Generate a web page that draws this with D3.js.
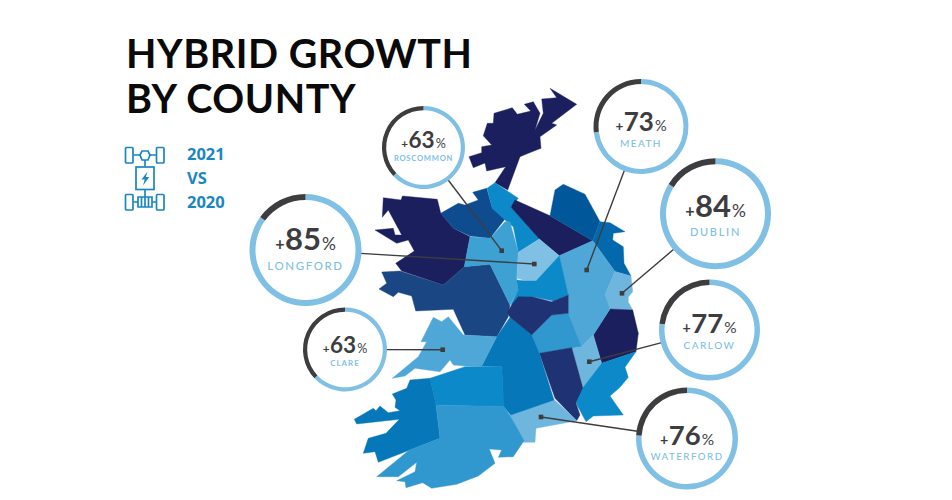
<!DOCTYPE html>
<html><head><meta charset="utf-8">
<script src="https://cdn.jsdelivr.net/npm/d3@7/dist/d3.min.js"></script>
<style>html,body{margin:0;background:#fff}svg{display:block}text{font-family:Lato,sans-serif}</style>
</head><body><svg id="c" width="952" height="500"></svg>
<script>
// ---- data ----
const titleLines = ["HYBRID GROWTH", "BY COUNTY"];
const compareLines = ["2021", "VS", "2020"];
const counties = ["Roscommon", "Meath", "Dublin", "Longford", "Clare", "Carlow", "Waterford"];
const growth = [63, 73, 84, 85, 63, 77, 76];
const anchorPoints = [[501.7,250.7],[586.7,270],[622,293.3],[534.3,264],[442.7,349.7],[589.3,361.7],[541,417]];
// map regions: [shade, outline in map units]
const regionShade = {navy:"#1b1f5e",indigo:"#1f3274",royal:"#1a4683",deep:"#0f4c8f",ocean:"#00589b",sea:"#0368ac",teal:"#0677b8",bright:"#0c89c8",mid:"#3198cf",rosc:"#3ea1d3",soft:"#4fa7d7",pale:"#6fb6df",ice:"#80c0e5"};
const regions = [
 ["navy",[[541.7,99],[556.7,97.7],[550,88.3],[576.7,104.3],[551.7,123.3],[556.7,125],[540,136.7],[541,148.3],[528.3,153.3],[520,156.7],[507.7,190],[495,182.7],[505.7,166.7],[486.7,171],[485,163],[473.3,167.7],[469,156.7],[481.7,152.7],[481.7,146.7],[491.7,145],[483.3,135.7],[487.3,123.3],[493.3,123.3],[494,113.3],[512.3,107.7],[517.3,114.3],[530.7,111],[524.3,104.3],[533.3,101.7],[540,113.3],[535,130],[543.3,113.3]]],
 ["navy",[[383.3,197.7],[401,200],[402.5,196],[437.3,199.3],[440.7,213],[453.3,228.3],[470,236.7],[464.3,266.7],[443.3,285],[401.7,271],[395.7,263.3],[414.3,251],[408.3,240],[396.7,243.3],[375,230],[393.3,228.3],[395,235],[401.7,235],[388.3,210],[382.3,217.3]]],
 ["royal",[[381.7,272],[400,271],[443.3,285],[464.3,266.7],[490,264.3],[510,305],[508.3,316.7],[496.7,336.7],[465,335],[453.3,309.3],[415.7,311],[411.7,296],[398.3,292.3],[393.3,296.7],[379,289],[386.7,283.3]]],
 ["deep",[[440.7,213.3],[458.3,203.3],[465,205],[478.3,200],[472.7,192.3],[486.7,188.3],[492.3,208.3],[505,219],[490,238.3],[470,236],[453.3,228.3]]],
 ["bright",[[487,188.3],[495,182.7],[518.3,198.3],[511,207.3],[539.3,239],[518.3,252.3],[513.3,226.7],[505,220],[492.3,208.3]]],
 ["navy",[[511,207.3],[515,200],[550,215.7],[592.7,240.7],[559.3,255.7],[539.3,239]]],
 ["ocean",[[563.3,184.3],[555,190],[550,215.7],[592.7,240.7],[600,221.7],[585,194.3]]],
 ["sea",[[600,221.7],[610,222.7],[625,231.7],[613.3,233.3],[612.7,240],[623.3,246.7],[624,263.3],[631,276],[615,271.5],[592.7,240.7]]],
 ["soft",[[592.7,240.7],[559.3,255.7],[568.3,295],[605,295],[615,271.5]]],
 ["pale",[[615,271.5],[631,276],[632.7,291.7],[628.3,297],[628.3,302],[632.7,310],[610,309],[605,295]]],
 ["navy",[[610,309],[632.7,310],[638.3,333.3],[636,351.7],[601.7,363.3],[593.3,335]]],
 ["soft",[[568.3,295],[605,295],[610,309],[593.3,335],[581.7,346.7],[568.3,313.3]]],
 ["mid",[[568.3,313.3],[581.7,346.7],[539.3,353.3],[531.7,335],[551.7,315]]],
 ["pale",[[581.7,346.7],[593.3,335],[601.7,363.3],[583.3,387.3],[571.7,348.3]]],
 ["indigo",[[539.3,353.3],[571.7,347.7],[583.3,389],[576,403.3],[580,415],[576.7,420.7],[555,398.3]]],
 ["bright",[[583.3,387.3],[601.7,363.3],[636,351.7],[625,367.3],[628.3,377.3],[620,387.3],[610,396],[623.3,415],[593.3,416],[586,421.7],[576,403.3]]],
 ["pale",[[554,399.5],[577,420.7],[536,428.3],[535,442.3],[523.3,442.3],[510,415]]],
 ["teal",[[510,317.3],[531.7,335],[539.3,353.3],[554,400],[510.7,415],[503.3,406],[501.7,366],[481.7,366],[496.7,336.7]]],
 ["soft",[[433.3,317.3],[441.7,321.7],[448.3,316.7],[463.3,335],[496.7,336.7],[481.7,366],[465,366],[453.3,365],[450,360],[440,371.7],[415,368.3],[405,376],[392.3,378.3],[418.3,356.7],[426.7,341.7],[421,341.7]]],
 ["rosc",[[470,236.7],[490,238.3],[505,221.7],[510,221.7],[518.3,252.3],[516.7,281],[518.3,290],[510,305],[490,264.3],[464.3,266.7]]],
 ["ice",[[518.3,252.3],[539.3,239],[559.3,255.7],[536,281],[526,281],[516.7,278]]],
 ["bright",[[516.7,280],[526,281],[536,281],[559.3,255.7],[568.3,295],[553.3,301],[533.3,296.7],[511,304.5],[518.3,290]]],
 ["indigo",[[518.3,296.7],[533.3,297],[551.7,301.7],[568.3,295],[568.3,313.3],[551.7,315],[531.7,335],[510,317.3],[507.5,312.7],[511.5,305]]],
 ["bright",[[430,378.3],[465,366.7],[501.7,366],[504,406.7],[436,405]]],
 ["teal",[[410,380],[430,378.3],[436,405],[440,438.3],[378.3,462.3],[375,451.7],[363.3,453.3],[368.3,438.3],[386,433.3],[399.3,419.3],[356.7,424],[354.3,419.3],[373.3,408.3],[376,410.7],[380,406],[388.3,412.7],[400,410.7],[395,407.3],[396,400],[392.3,394],[406.7,388.3]]],
 ["mid",[[436,405],[504,406.5],[510,415.5],[524,440.7],[513.3,456.7],[498.3,457.3],[501.7,450],[489.3,449],[495,463.3],[478.3,476],[456.7,484.3],[431.7,488.3],[422.7,482.7],[406,487.7],[405,481.7],[396.7,480.7],[415,471.7],[416.7,462.3],[398.3,476.7],[376.7,476.7],[409.3,450],[440,438.3]]]
];
// ---- layout (gauge centre x, y, radius, ring width, number size, label size, label spacing, number dy, label dy) ----
const layout = {
 Roscommon:[423.5,147.5,41.5,4.2,22.5,7.6,0.75,0,13.5],
 Meath:[641,126.5,47.5,5,26,10,1.4,4.5,20],
 Dublin:[715.5,213.7,55.5,6,31,11,1.7,3,22],
 Longford:[305.5,250,56,6,31,11.5,1.6,-0.5,20],
 Clare:[345,349.5,42,4.2,22.5,7.8,1.1,3,16.5],
 Carlow:[709.5,330,50.5,5.5,27.5,10,1.5,2.7,19],
 Waterford:[687,438.5,51,5.5,27.5,9.7,1.5,6,21]
};
const INK="#3d3d3f", LIGHT="#80c0e4", CTA="#1a86c1";
const svg=d3.select("#c");
svg.append("rect").attr("width",952).attr("height",500).attr("fill","#fff");

// map
const path=d3.geoPath(d3.geoIdentity());
const features=regions.map(([shade,ring])=>({type:"Feature",properties:{shade},geometry:{type:"Polygon",coordinates:[[...ring,ring[0]]]}}));
svg.append("g").selectAll("path").data(features).join("path")
  .attr("d",path).attr("fill",d=>regionShade[d.properties.shade])
  .attr("stroke",d=>regionShade[d.properties.shade]).attr("stroke-width",0.4).attr("stroke-linejoin","round");

// title
svg.append("g").selectAll("text").data(titleLines).join("text")
  .attr("x",126).attr("y",(d,i)=>68+i*45).attr("font-size",39.5).attr("font-weight",700)
  .attr("letter-spacing",0.55).attr("fill","#0a0a0a").text(d=>d);
svg.append("g").selectAll("text").data(compareLines).join("text")
  .attr("x",187).attr("y",(d,i)=>160+i*24).attr("font-size",16.5).attr("font-weight",700)
  .style("font-family","'Open Sans',sans-serif").attr("fill",CTA).text(d=>d);

// drivetrain icon
const ic=svg.append("g").attr("fill","none").attr("stroke",CTA).attr("stroke-width",1.7);
[[125.5,147.5],[156.5,147.5],[125.5,194.5],[156.5,194.5]].forEach(([x,y])=>ic.append("rect").attr("x",x).attr("y",y).attr("width",7.5).attr("height",15.5).attr("rx",1));
ic.append("path").attr("d","M133 155H140M150 155H156.5M133 202H138M152 202H156.5M145 160V166.5M145 189.5V197");
ic.append("path").attr("d","M140 155L142 151H148L150 155L148 160H142Z");
ic.append("rect").attr("x",136).attr("y",167).attr("width",18).attr("height",22.5);
ic.append("path").attr("d","M138 197H152V207H138ZM141.5 197V207M145 197V207M148.5 197V207");
ic.append("path").attr("d","M147.5 171.5L141.5 179.5H144.7L143 185.5L149.3 177H145.8Z").attr("fill",CTA).attr("stroke","none");

// leader lines, markers, gauges
const pie=d3.pie().sort(null).startAngle(0).endAngle(2*Math.PI);
counties.forEach((name,i)=>{
  const [cx,cy,r,w,fs,ls,sp,ndy,ldy]=layout[name], [ax,ay]=anchorPoints[i], v=growth[i];
  const a=Math.atan2(ay-cy,ax-cx);
  svg.append("line").attr("x1",cx+Math.cos(a)*(r-1)).attr("y1",cy+Math.sin(a)*(r-1)).attr("x2",ax).attr("y2",ay)
    .attr("stroke",INK).attr("stroke-width",1.4);
  svg.append("rect").attr("x",ax-2.3).attr("y",ay-2.3).attr("width",4.6).attr("height",4.6).attr("fill",INK);
  const g=svg.append("g").attr("transform",`translate(${cx},${cy})`);
  const arc=d3.arc().innerRadius(r-w).outerRadius(r);
  g.selectAll("path").data(pie([v,100-v])).join("path").attr("d",arc).attr("fill",(d,k)=>k?INK:LIGHT);
  const t=g.append("text").attr("text-anchor","middle").attr("y",ndy).attr("fill",INK);
  t.append("tspan").attr("font-size",fs*0.52).attr("font-weight",700).text("+");
  t.append("tspan").attr("font-size",fs).attr("font-weight",700).attr("dx",0.5).text(v);
  t.append("tspan").attr("font-size",fs*0.56).attr("font-weight",400).attr("dx",1).text("%");
  g.append("text").attr("text-anchor","middle").attr("y",ldy).attr("font-size",ls).attr("font-weight",ls<9?700:500)
    .attr("letter-spacing",sp).attr("fill",LIGHT).text(name.toUpperCase());
});
</script></body></html>
